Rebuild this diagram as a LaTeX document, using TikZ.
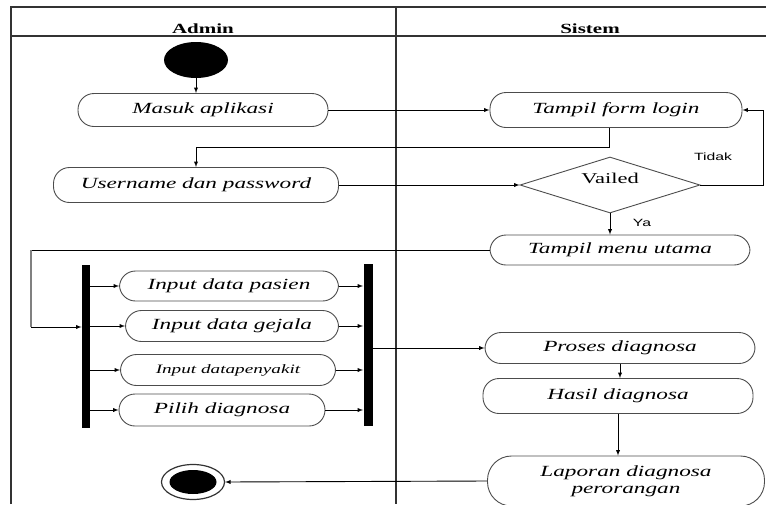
\documentclass[tikz,border=0pt]{standalone}
\usepackage{fontspec}
\newfontfamily\diagfont{Liberation Serif}[FakeStretch=1.5]
\newfontfamily\labelfont{Liberation Sans}[FakeStretch=1.5]
\usetikzlibrary{arrows, shapes.geometric, calc}

\begin{document}
\begin{tikzpicture}[x=1pt, y=-1pt, line width=0.9pt,
    act/.style={draw=black!70, rounded corners=16pt, minimum height=32pt, inner sep=0pt,
      font=\diagfont\itshape\fontsize{15.5}{17}\selectfont},
    bar/.style={fill=black, inner sep=0pt, minimum width=8pt},
    lane/.style={draw=black!80, line width=1.3pt},
    arr/.style={-latex}]
  \useasboundingbox (0,0) rectangle (766,504);
  \clip (0,0) rectangle (766,504);
  % swimlanes
  \draw[lane] (11,504) -- (11,7) -- (766,7);
  \draw[lane] (11,36) -- (766,36);
  \draw[lane] (396,7) -- (396,504);
  \node[font=\diagfont\bfseries\fontsize{14}{16}\selectfont] (admin) at (203,29) {Admin};
  \node[font=\diagfont\bfseries\fontsize{14}{16}\selectfont] (sistem) at (590,29) {Sistem};

  % admin
  \node[ellipse, fill=black, minimum width=64pt, minimum height=36pt, inner sep=0pt] (start) at (196,60) {};
  \node[act, minimum width=250pt, minimum height=33pt] (masuk) at (203,110) {Masuk aplikasi};
  \node[act, minimum width=285pt, minimum height=35pt] (uname) at (196,185) {Username dan password};
  \node[bar, minimum height=163pt] (forkL) at (86,346) {};
  \node[bar, minimum width=9pt, minimum height=162pt] (forkR) at (368,345) {};
  \node[act, minimum width=219pt, minimum height=30pt] (pasien) at (229,286) {Input data pasien};
  \node[act, minimum width=213pt, minimum height=31pt] (gejala) at (232,326) {Input data gejala};
  \node[act, minimum width=215pt, minimum height=31pt, font=\diagfont\itshape\fontsize{12.8}{14}\selectfont] (penyakit) at (228,370) {Input datapenyakit};
  \node[act, minimum width=206pt, minimum height=32pt] (pilih) at (222,410) {Pilih diagnosa};
  \node[ellipse, draw=black!80, line width=1.2pt, minimum width=63pt, minimum height=35pt, inner sep=0pt] (final) at (193,482) {};
  \node[ellipse, fill=black, minimum width=47pt, minimum height=24pt, inner sep=0pt] (finalin) at (final) {};

  % sistem
  \node[act, minimum width=252pt, minimum height=35pt] (form) at (616,110) {Tampil form login};
  \node[diamond, draw=black!70, aspect=3.2, minimum width=180pt, minimum height=56pt, inner sep=0pt] (vailed) at (610,185) {};
  \node[font=\diagfont\fontsize{15}{17}\selectfont] (vailedtxt) at (610,178) {Vailed};
  \node[act, minimum width=260pt, minimum height=30pt] (menu) at (620,250) {Tampil menu utama};
  \node[act, minimum width=270pt, minimum height=31pt] (proses) at (620,348) {Proses diagnosa};
  \node[act, minimum width=270pt, minimum height=35pt] (hasil) at (618,396) {Hasil diagnosa};
  \node[act, minimum width=277pt, minimum height=50pt, rounded corners=24pt, align=center] (laporan) at (626,481) {Laporan diagnosa\\perorangan};
  \node[font=\labelfont\fontsize{10.5}{12}\selectfont] (tidak) at (713,157) {Tidak};
  \node[font=\labelfont\fontsize{10.5}{12}\selectfont] (ya) at (642,223) {Ya};

  \coordinate (loopA) at (31,250);
  \coordinate (loopB) at (31,327);

  \draw[arr] (start.south) -- (start.south |- masuk.north);
  \draw[arr] (masuk.east) -- (form.west);
  \draw[arr] ($(form.south)+(-7,0)$) -- ++(0,19) -| (uname.north);
  \draw[arr] (uname.east) -- (vailed.west);
  \draw[arr] (vailed.east) -- ++(63,0) |- (form.east);
  \draw[arr] (vailed.south) -- (vailed.south |- menu.north);
  \draw (menu.west) -- (loopA |- menu.west) -- (loopA);
  \draw[gray, line width=2pt] (loopA) -- (loopB);
  \draw[arr] (loopB) -- (loopB -| forkL.west);
  \foreach \act in {pasien, gejala, penyakit, pilih} {
    \draw[arr] (forkL.east |- \act.west) -- (\act.west);
    \draw[arr] (\act.east) -- (forkR.west |- \act.east);
  }
  \draw[arr] (forkR.east |- proses.west) -- (proses.west);
  \draw[arr] (proses.south) -- (proses.south |- hasil.north);
  \draw[arr] (hasil.south) -- (hasil.south |- laporan.north);
  \draw[arr] (laporan.west) -- (final.east);
\end{tikzpicture}
\end{document}
